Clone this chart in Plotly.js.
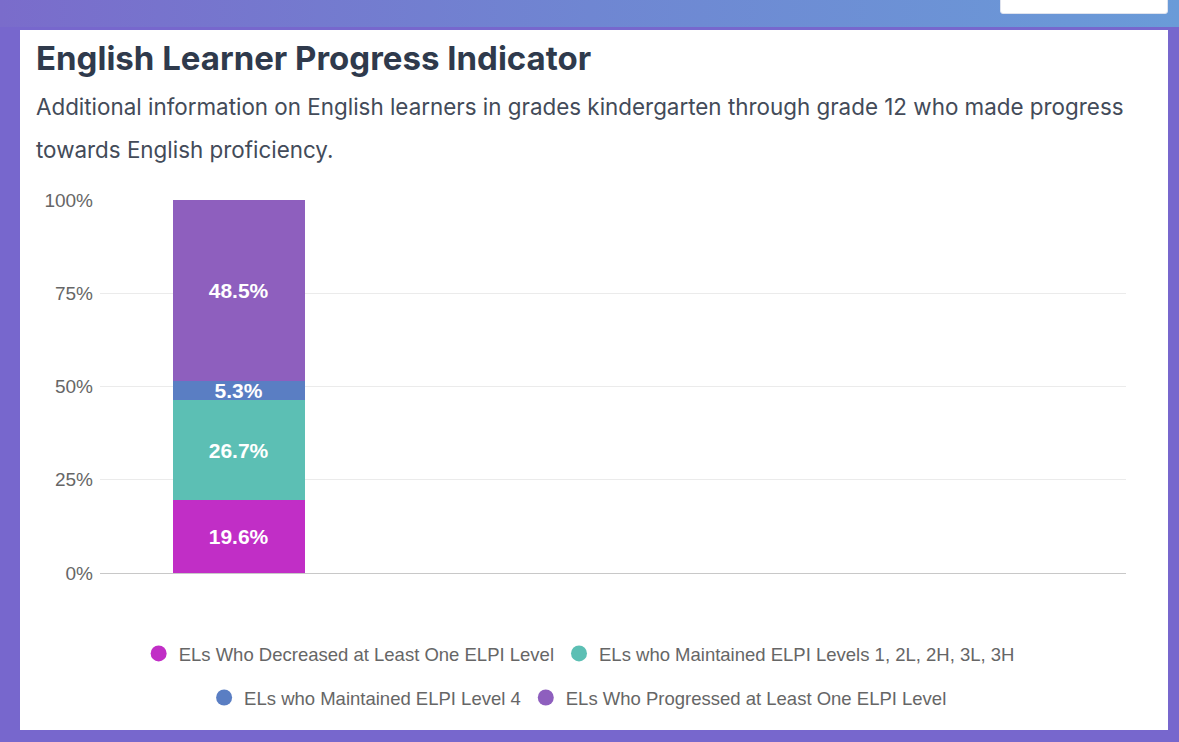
<!DOCTYPE html>
<html>
<head>
<meta charset="utf-8">
<script src="https://cdn.plot.ly/plotly-3.0.1.min.js"></script>
<style>
  html, body { margin:0; padding:0; }
  body { width:1179px; height:742px; background:#7767cd; position:relative; overflow:hidden; font-family: Inter, "Liberation Sans", sans-serif; }
  #band { position:absolute; left:0; top:0; width:1179px; height:27px; background:linear-gradient(90deg,#7a6ccb 0%,#6f86d2 50%,#6a9bd8 100%); }
  #box { position:absolute; left:1000px; top:-6px; width:166px; height:18px; background:#fff; border-radius:3px; border:1px solid #dfe3ee; }
  #panel { position:absolute; left:20px; top:30px; width:1148px; height:700px; background:#fff; }
  #title { position:absolute; left:16px; top:8px; margin:0; font-weight:700; font-size:33px; color:#2f3a4c; white-space:nowrap; }
  #sub { position:absolute; left:16px; top:55px; margin:0; font-size:22.4px; color:#434b59; line-height:43px; width:1120px; }
  #chart { position:absolute; left:0; top:140px; width:1148px; height:560px; }
</style>
</head>
<body>
<div id="band"></div>
<div id="box"></div>
<div id="panel">
  <div id="title">English Learner Progress Indicator</div>
  <div id="sub">Additional information on English learners in grades kindergarten through grade 12 who made progress towards English proficiency.</div>
  <div id="chart"></div>
</div>
<script>
const category = [''];
const seriesNames = [
  'ELs Who Decreased at Least One ELPI Level',
  'ELs who Maintained ELPI Levels 1, 2L, 2H, 3L, 3H',
  'ELs who Maintained ELPI Level 4',
  'ELs Who Progressed at Least One ELPI Level'
];
const decreased = [19.6];
const maintainedLow = [26.7];
const maintained4 = [5.3];
const progressed = [48.5];
const seriesValues = [decreased, maintainedLow, maintained4, progressed];
const colors = ['#c12ec6', '#5cbfb4', '#5a7ec3', '#8e5fbe'];
const yTicks = [0, 25, 50, 75, 100];
const yTickLabels = ['0%', '25%', '50%', '75%', '100%'];

const traces = [];
seriesValues.forEach((vals, i) => {
  traces.push({
    type: 'bar',
    x: category,
    y: vals,
    name: seriesNames[i],
    marker: { color: colors[i], line: { width: 0 } },
    texttemplate: '%{y:.1f}%',
    textposition: 'inside',
    insidetextanchor: 'middle',
    textangle: 0,
    textfont: { color: '#ffffff', size: 21, family: '"Liberation Sans", Arial, sans-serif', weight: 700 },
    width: 1,
    showlegend: false,
    hoverinfo: 'skip'
  });
});
seriesValues.forEach((vals, i) => {
  traces.push({
    type: 'scatter',
    mode: 'markers',
    x: [null],
    y: [null],
    name: seriesNames[i],
    marker: { color: colors[i], size: 17, symbol: 'circle' },
    legend: i < 2 ? 'legend' : 'legend2',
    showlegend: true
  });
});

const legendFont = { family: '"Liberation Sans", Arial, sans-serif', size: 18.5, color: '#666666' };
const layout = {
  width: 1148,
  height: 560,
  margin: { l: 80, r: 42, t: 30, b: 157 },
  paper_bgcolor: '#ffffff',
  plot_bgcolor: '#ffffff',
  barmode: 'stack',
  bargap: 0,
  uniformtext: { mode: 'show', minsize: 21 },
  showlegend: true,
  xaxis: {
    type: 'category',
    range: [-1.05, 6.72],
    showticklabels: false,
    showgrid: false,
    zeroline: false,
    showline: false,
    fixedrange: true
  },
  yaxis: {
    range: [0, 100],
    tickvals: yTicks,
    ticktext: yTickLabels,
    tickfont: { family: '"Liberation Sans", Arial, sans-serif', size: 19, color: '#666666' },
    gridcolor: '#ebebeb',
    gridwidth: 1,
    zeroline: true,
    zerolinecolor: '#c8c8c8',
    zerolinewidth: 1,
    showline: false,
    ticks: '',
    ticklabelstandoff: 6,
    fixedrange: true
  },
  legend: {
    orientation: 'h',
    traceorder: 'normal',
    itemwidth: 30,
    xref: 'paper', yref: 'paper',
    x: 0.467, xanchor: 'center',
    y: -0.217, yanchor: 'middle',
    font: legendFont,
    itemclick: false, itemdoubleclick: false,
    bgcolor: 'rgba(0,0,0,0)'
  },
  legend2: {
    orientation: 'h',
    traceorder: 'normal',
    itemwidth: 30,
    xref: 'paper', yref: 'paper',
    x: 0.466, xanchor: 'center',
    y: -0.335, yanchor: 'middle',
    font: legendFont,
    itemclick: false, itemdoubleclick: false,
    bgcolor: 'rgba(0,0,0,0)'
  }
};

Plotly.newPlot('chart', traces, layout, { displayModeBar: false, staticPlot: true });
</script>
</body>
</html>
